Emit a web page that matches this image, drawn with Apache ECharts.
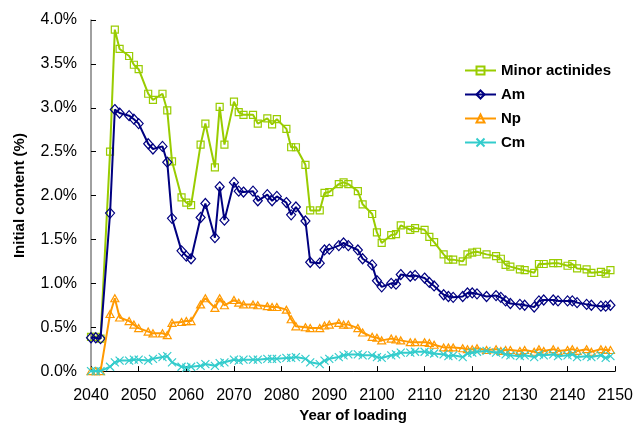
<!DOCTYPE html>
<html>
<head>
<meta charset="utf-8">
<script src="https://cdn.jsdelivr.net/npm/echarts@6/dist/echarts.min.js"></script>
<style>
html,body{margin:0;padding:0;background:#fff;}
#chart{width:636px;height:428px;}
</style>
</head>
<body>
<div id="chart"></div>
<script>
var years = [2040,2041,2042,2044,2045,2046,2048,2049,2050,2052,2053,2055,2056,2057,2059,2060,2061,2063,2064,2066,2067,2068,2070,2071,2072,2074,2075,2077,2078,2079,2081,2082,2083,2085,2086,2088,2089,2090,2092,2093,2094,2096,2097,2099,2100,2101,2103,2104,2105,2107,2108,2110,2111,2112,2114,2115,2116,2118,2119,2120,2121,2123,2125,2126,2127,2128,2130,2131,2133,2134,2135,2137,2138,2140,2141,2142,2144,2145,2147,2148,2149];

var minorActinides = [0.39,0.39,0.37,2.50,3.89,3.67,3.59,3.49,3.44,3.16,3.09,3.16,2.97,2.39,1.98,1.92,1.89,2.58,2.82,2.32,3.01,2.58,3.07,2.95,2.92,2.92,2.82,2.88,2.81,2.87,2.76,2.55,2.55,2.35,1.83,1.83,2.03,2.04,2.13,2.15,2.13,2.05,1.90,1.79,1.58,1.46,1.55,1.56,1.66,1.61,1.63,1.61,1.53,1.47,1.33,1.27,1.27,1.25,1.33,1.35,1.36,1.33,1.31,1.28,1.21,1.19,1.16,1.15,1.12,1.22,1.22,1.23,1.23,1.20,1.22,1.17,1.16,1.12,1.13,1.11,1.15];

var am = [0.38,0.38,0.37,1.80,2.98,2.94,2.91,2.87,2.82,2.59,2.53,2.56,2.38,1.74,1.37,1.31,1.28,1.75,1.91,1.52,2.10,1.72,2.15,2.05,2.04,2.05,1.94,2.01,1.94,1.99,1.92,1.78,1.87,1.71,1.24,1.23,1.38,1.39,1.43,1.46,1.43,1.38,1.28,1.21,1.03,0.96,1.00,0.99,1.10,1.08,1.09,1.06,1.01,0.97,0.87,0.85,0.84,0.85,0.89,0.89,0.88,0.85,0.86,0.84,0.80,0.77,0.76,0.75,0.73,0.80,0.81,0.81,0.80,0.80,0.80,0.78,0.76,0.75,0.74,0.74,0.75];

var np = [0,0,0,0.65,0.83,0.61,0.57,0.53,0.49,0.45,0.43,0.43,0.41,0.55,0.56,0.57,0.57,0.76,0.83,0.72,0.83,0.75,0.81,0.78,0.76,0.76,0.75,0.74,0.73,0.73,0.70,0.59,0.51,0.50,0.49,0.49,0.52,0.53,0.55,0.53,0.53,0.49,0.44,0.39,0.38,0.35,0.37,0.36,0.35,0.33,0.33,0.33,0.32,0.30,0.27,0.27,0.27,0.26,0.25,0.25,0.26,0.24,0.25,0.23,0.24,0.24,0.23,0.24,0.22,0.25,0.23,0.25,0.23,0.24,0.25,0.23,0.25,0.22,0.25,0.24,0.24];

var cm = [0,0,0,0.05,0.10,0.12,0.12,0.13,0.13,0.12,0.14,0.16,0.17,0.10,0.05,0.04,0.05,0.06,0.08,0.06,0.09,0.10,0.13,0.12,0.13,0.13,0.13,0.14,0.14,0.14,0.15,0.15,0.16,0.14,0.10,0.08,0.12,0.14,0.16,0.18,0.19,0.19,0.18,0.18,0.16,0.15,0.18,0.19,0.21,0.21,0.22,0.22,0.21,0.20,0.19,0.17,0.18,0.16,0.20,0.21,0.22,0.23,0.21,0.22,0.19,0.18,0.17,0.18,0.16,0.19,0.18,0.19,0.17,0.18,0.19,0.16,0.17,0.16,0.18,0.15,0.17];

var seriesNames = ['Minor actinides','Am','Np','Cm'];
var seriesColors = ['#99cc00','#000080','#ff9900','#33cccc'];
var seriesSymbols = ['rect','diamond','triangle','path://M0,0L10,10M10,0L0,10'];
var seriesSizes = [[7,7],[9,10],[8,7],[8,8]];
var seriesValues = [minorActinides, am, np, cm];

function pairs(vals){
  return years.map(function(y,i){return [y, vals[i]];});
}

var font = '"Liberation Sans", Arial, sans-serif';
var chart = echarts.init(document.getElementById('chart'), null, {renderer:'canvas'});

chart.setOption({
  animation:false,
  backgroundColor:'#ffffff',
  grid:{left:91, right:18, top:20, bottom:52, containLabel:false},
  legend:{
    orient:'vertical', left:459, top:58,
    itemWidth:31, itemHeight:10, itemGap:9,
    textStyle:{fontFamily:font, fontSize:15, fontWeight:'bold', color:'#000'},
    data:seriesNames
  },
  xAxis:{
    type:'value', min:2040, max:2150, interval:10,
    name:'Year of loading', nameLocation:'middle', nameGap:34,
    nameTextStyle:{fontFamily:font, fontSize:15, fontWeight:'bold', color:'#000'},
    axisLine:{onZero:false, lineStyle:{color:'#000', width:1}},
    axisTick:{inside:true, length:5, lineStyle:{color:'#000'}},
    axisLabel:{fontFamily:font, fontSize:16, color:'#000', margin:16,
      formatter:function(v){return String(Math.round(v));}},
    splitLine:{show:false}
  },
  yAxis:{
    type:'value', min:0, max:4, interval:0.5,
    name:'Initial content (%)', nameLocation:'middle', nameGap:64,
    nameTextStyle:{fontFamily:font, fontSize:15, fontWeight:'bold', color:'#000'},
    axisLine:{show:true, lineStyle:{color:'#808080', width:1.5}},
    axisTick:{show:true, inside:true, length:5, lineStyle:{color:'#000'}},
    axisLabel:{fontFamily:font, fontSize:16, color:'#000', margin:14,
      formatter:function(v){return v.toFixed(1)+'%';}},
    splitLine:{show:false}
  },
  series: seriesNames.map(function(n,i){
    return {
      name:n, type:'line', data:pairs(seriesValues[i]),
      symbol:seriesSymbols[i], symbolSize:seriesSizes[i], showAllSymbol:true,
      lineStyle:{color:seriesColors[i], width:2},
      itemStyle:{color:'rgba(255,255,255,0)', borderColor:seriesColors[i], borderWidth:1.2},
      emphasis:{disabled:true},
      z:2+i
    };
  })
});
</script>
</body>
</html>
